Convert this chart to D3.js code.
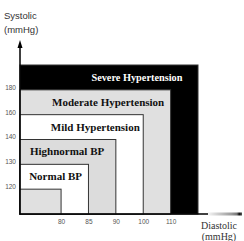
<!DOCTYPE html>
<html>
<head>
<meta charset="utf-8">
<script src="https://cdn.jsdelivr.net/npm/d3@7"></script>
<style>
  body { margin: 0; background: #fff; }
  .band-label { font-family: 'Liberation Serif', 'Times New Roman', serif; font-weight: bold; font-size: 11px; }
</style>
</head>
<body>
<div id="chart"></div>
<script>
const width = 244;
const height = 241;

// categories, from the outer band to the inner one
const categories = ['Severe Hypertension', 'Moderate Hypertension', 'Mild Hypertension', 'Highnormal BP', 'Normal BP', ''];
const systolicTicks = [120, 130, 140, 160, 180];
const diastolicTicks = [80, 85, 90, 100, 110];
// upper limit of each band (index into the tick lists, 5 = beyond the last tick)
const systolicLimits = [5, 4, 3, 2, 1, 0];
const diastolicLimits = [5, 4, 3, 2, 1, 0];
const bandFill = ['#000', '#e0e0e0', '#fff', '#dcdcdc', '#fff', '#e0e0e0'];
const labelFill = ['#fff', '#111', '#111', '#111', '#111', '#111'];

const svg = d3
  .select('#chart')
  .append('svg')
  .attr('width', width)
  .attr('height', height);

// tick index -> pixels (the axis sits one and a half steps left of the first tick)
const xScale = d3.scaleLinear().domain([-1.5, 5]).range([20, 198]);
const yScale = d3.scaleLinear().domain([-1, 5]).range([214, 65]);

const bands = categories.map((name, i) => ({
  name,
  sx: diastolicLimits[i],
  sy: systolicLimits[i],
}));

svg
  .selectAll('.band')
  .data(bands)
  .enter()
  .append('rect')
  .attr('class', 'band')
  .attr('x', xScale(-1.5))
  .attr('y', (d) => yScale(d.sy))
  .attr('width', (d) => xScale(d.sx) - xScale(-1.5))
  .attr('height', (d) => yScale(-1) - yScale(d.sy))
  .attr('fill', (d, i) => bandFill[i])
  .attr('stroke', '#333')
  .attr('stroke-width', 1);

// label centres, in tick index units
const labelPos = [2.77, 1.72, 1.25, 0.22, -0.2];
svg
  .selectAll('.band-label')
  .data(bands.slice(0, 5))
  .enter()
  .append('text')
  .attr('class', 'band-label')
  .attr('x', (d, i) => xScale(labelPos[i]))
  .attr('y', (d) => (yScale(d.sy) + yScale(d.sy - 1)) / 2 + 3.5)
  .attr('text-anchor', 'middle')
  .attr('fill', (d, i) => labelFill[i])
  .style('font-size', (d, i) => (i === 0 ? '10.3px' : null))
  .text((d) => d.name);

// axes
const xAxis = d3
  .axisBottom(xScale)
  .tickValues(d3.range(diastolicTicks.length))
  .tickFormat((i) => diastolicTicks[i])
  .tickSize(0)
  .tickPadding(5);

const yAxis = d3
  .axisLeft(yScale)
  .tickValues(d3.range(systolicTicks.length))
  .tickFormat((i) => systolicTicks[i])
  .tickSize(0)
  .tickPadding(4);

const styleTicks = (g) => {
  g.select('.domain').remove();
  g.selectAll('.tick text')
    .attr('fill', '#555')
    .attr('font-family', 'Liberation Sans, Arial, sans-serif')
    .attr('font-size', 6.5);
};

svg
  .append('g')
  .attr('class', 'x-axis')
  .attr('transform', 'translate(0,214)')
  .call(xAxis)
  .call(styleTicks);

svg
  .append('g')
  .attr('class', 'y-axis')
  .attr('transform', 'translate(20,0)')
  .call(yAxis)
  .call(styleTicks);

svg.selectAll('.y-axis .tick text').attr('dy', '-0.1em');

// axis lines and arrows
svg.append('line')
  .attr('x1', 20).attr('x2', 20).attr('y1', 46).attr('y2', 214.5)
  .attr('stroke', '#000').attr('stroke-width', 1.5);
svg.append('path')
  .attr('d', 'M20,40 L17.5,48 L22.5,48 Z')
  .attr('fill', '#000');

svg.append('line')
  .attr('x1', 19.5).attr('x2', 209).attr('y1', 214).attr('y2', 214)
  .attr('stroke', '#000').attr('stroke-width', 1.5);

const grad = svg.append('defs').append('linearGradient').attr('id', 'arrowGrad');
grad.append('stop').attr('offset', '0%').attr('stop-color', '#f4f4f4');
grad.append('stop').attr('offset', '70%').attr('stop-color', '#999');
grad.append('stop').attr('offset', '85%').attr('stop-color', '#777');
grad.append('stop').attr('offset', '92%').attr('stop-color', '#111');
grad.append('stop').attr('offset', '100%').attr('stop-color', '#555');
svg.append('rect')
  .attr('x', 208).attr('y', 212.5).attr('width', 34).attr('height', 3)
  .attr('fill', 'url(#arrowGrad)');

// axis titles
const sans = 'Liberation Sans, Arial, sans-serif';
const serif = 'Liberation Serif, Times New Roman, serif';

svg.append('text')
  .attr('x', 4).attr('y', 19)
  .attr('font-family', sans).attr('font-size', 9.5).attr('fill', '#333')
  .text('Systolic');
svg.append('text')
  .attr('x', 4).attr('y', 33)
  .attr('font-family', sans).attr('font-size', 9.5).attr('fill', '#333')
  .text('(mmHg)');

svg.append('text')
  .attr('x', 219).attr('y', 229)
  .attr('text-anchor', 'middle')
  .attr('font-family', serif).attr('font-size', 10).attr('fill', '#333')
  .text('Diastolic');
svg.append('text')
  .attr('x', 219).attr('y', 240)
  .attr('text-anchor', 'middle')
  .attr('font-family', serif).attr('font-size', 10).attr('fill', '#333')
  .text('(mmHg)');
</script>
</body>
</html>
